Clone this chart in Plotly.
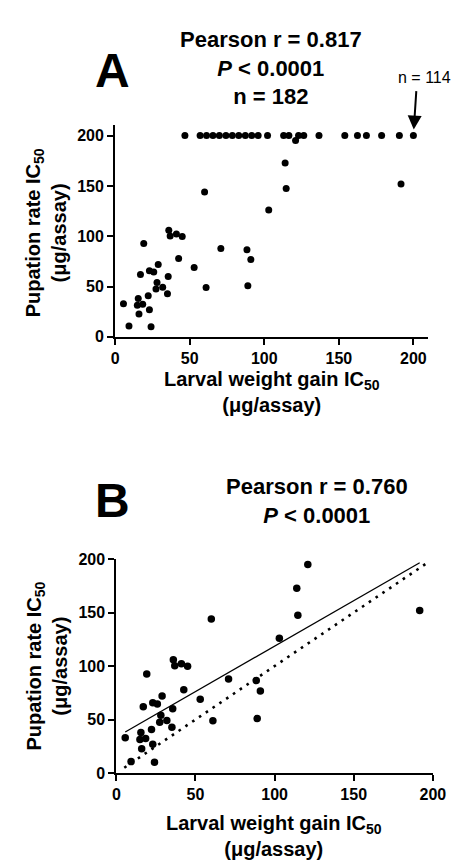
import plotly.graph_objects as go

# ---- data ----
# points below the 200 ug/assay ceiling (shown in both panels)
larval_ic50 = [5.6, 9.3, 19.2, 17, 15.5, 14.9, 18.5, 16, 22.2, 23, 24.1, 23, 25.9, 28.9,
               28.1, 27.4, 31.9, 35.6, 35.1, 36, 36.9, 41.1, 45, 42.6, 53, 61, 70.9, 60,
               103, 88.4, 91, 89, 114, 114.7, 191.7, 121]
pupation_ic50 = [33, 10.7, 92.7, 62, 38, 31.4, 32.4, 22.7, 40.8, 26.9, 10, 65.8, 64.5, 72,
                 54.1, 47.6, 49.2, 60, 42.8, 106, 100.2, 102.1, 99.8, 77.8, 69, 49, 87.8, 144,
                 126, 86.6, 76.8, 50.9, 172.8, 147.5, 152, 195]
# points at the 200 ug/assay ceiling (panel A only)
ceiling_larval = [46.8, 57, 61.3, 65.6, 69.9, 74.3, 78.6, 82.9, 87.3, 91.6, 95.9, 102.2,
                  113, 116.5, 123, 126.5, 136.7, 154, 162.5, 168.5, 178.7, 190.6, 200]
ceiling_pupation = [200] * len(ceiling_larval)

ticks = [0, 50, 100, 150, 200]
tick_labels = ["0", "50", "100", "150", "200"]

fit_slope = 0.85
fit_intercept = 33.6
identity_x = [5, 196]

stats_a = ["Pearson r = 0.817", "<i>P</i> < 0.0001", "n = 182"]
stats_b = ["Pearson r = 0.760", "<i>P</i> < 0.0001"]
n_label = "n = 114"

# ---- layout helpers ----
W, H = 468, 862
FONT = "Liberation Sans, Arial, sans-serif"


def px(x):
    return x / W


def py(y):
    return 1 - y / H


fit_x = [min(larval_ic50), max(larval_ic50)]
fit_y = [fit_slope * v + fit_intercept for v in fit_x]

fig = go.Figure()
all_ax = ceiling_larval + larval_ic50
all_ay = ceiling_pupation + pupation_ic50
fig.add_trace(go.Scatter(x=all_ax, y=all_ay, mode="markers", xaxis="x", yaxis="y",
                         marker=dict(color="black", size=7), cliponaxis=False, showlegend=False))
fig.add_trace(go.Scatter(x=identity_x, y=identity_x, mode="lines", xaxis="x2", yaxis="y2",
                         line=dict(color="black", width=2.6, dash="2.6px,5.6px"),
                         showlegend=False))
fig.add_trace(go.Scatter(x=fit_x, y=fit_y, mode="lines", xaxis="x2", yaxis="y2",
                         line=dict(color="black", width=1.3), showlegend=False))
fig.add_trace(go.Scatter(x=larval_ic50, y=pupation_ic50, mode="markers", xaxis="x2", yaxis="y2",
                         marker=dict(color="black", size=7.5), cliponaxis=False, showlegend=False))

axis_common = dict(showline=True, linecolor="black", linewidth=2, ticks="outside",
                   ticklen=6, tickwidth=2, tickcolor="black", showgrid=False, zeroline=False,
                   tickvals=ticks, ticktext=tick_labels,
                   tickfont=dict(family=FONT, size=16, color="black", weight="bold"),
                   fixedrange=True)

fig.update_layout(
    width=W, height=H, autosize=False,
    margin=dict(l=0, r=0, t=0, b=0),
    paper_bgcolor="white", plot_bgcolor="white",
    xaxis=dict(domain=[px(107), px(432)], range=[0, 210], anchor="y", **axis_common),
    yaxis=dict(domain=[py(327.3), py(110.7)], range=[0, 211], anchor="x", **axis_common),
    xaxis2=dict(domain=[px(108.3), px(436.7)], range=[0, 200], anchor="y2", **axis_common),
    yaxis2=dict(domain=[py(772.3), py(554)], range=[0, 200], anchor="x2", **axis_common),
)


def ann(text, x, y, size, bold=True, angle=0):
    t = f"<b>{text}</b>" if bold else text
    fig.add_annotation(text=t, x=px(x), y=py(y), xref="paper", yref="paper",
                       xanchor="center", yanchor="middle", showarrow=False,
                       textangle=angle, font=dict(family=FONT, size=size, color="black"))


ann("A", 104, 56, 48)
ann("<br>".join(stats_a), 269, 53, 22)
ann(n_label, 428, 63, 16, bold=False)
ann("B", 104, 494, 48)
ann("<br>".join(stats_b), 316, 495, 22)

ytitle = "Pupation rate IC<sub>50</sub><br>(μg/assay)"
xtitle = "Larval weight gain IC<sub>50</sub><br>(μg/assay)"
ann(ytitle, 35, 221, 20, angle=-90)
ann(ytitle, 36, 663, 20, angle=-90)
ann(xtitle, 270, 384, 20)
ann(xtitle, 272, 837, 20)

# arrow pointing at the stacked ceiling point
fig.add_annotation(x=ceiling_larval[-1], y=ceiling_pupation[-1], xref="x", yref="y",
                   text="", showarrow=True, ax=3, ay=-46, standoff=6,
                   arrowhead=2, arrowsize=1.4, arrowwidth=2, arrowcolor="black")

fig.write_html("out.html")
